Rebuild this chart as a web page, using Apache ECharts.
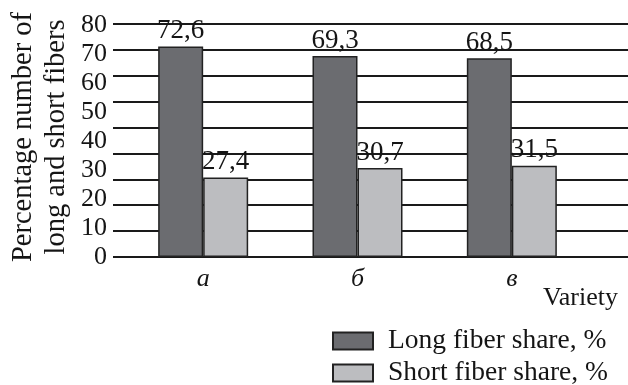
<!DOCTYPE html>
<html>
<head>
<meta charset="utf-8">
<script src="https://cdn.jsdelivr.net/npm/echarts@6/dist/echarts.min.js"></script>
<style>
  html, body { margin: 0; padding: 0; background: #fff; }
  #chart { width: 628px; height: 385px; }
</style>
</head>
<body>
<div id="chart"></div>
<script>
// Fiber share by variety
const categories = ['а', 'б', 'в'];
const longShare = [72.6, 69.3, 68.5];
const shortShare = [27.4, 30.7, 31.5];
const seriesNames = ['Long fiber share, %', 'Short fiber share, %'];
const yTicks = [0, 10, 20, 30, 40, 50, 60, 70, 80];
const yTitle = 'Percentage number of\nlong and short fibers';
const xTitle = 'Variety';

const SERIF = '"Liberation Serif", "DejaVu Serif", serif';
const INK = '#151515';

const fmt = v => String(v.toFixed(1)).replace('.', ',');

// one legend block per series, stacked
const legendBlock = (name, top) => ({
  orient: 'vertical',
  left: 332,
  top: top,
  padding: 0,
  itemWidth: 40,
  itemHeight: 17,
  icon: 'rect',
  textStyle: {
    fontFamily: SERIF,
    fontSize: 27.5,
    lineHeight: 26,
    color: INK,
    padding: [0, 0, 0, 10]
  },
  data: [name]
});

const barLabel = {
  show: true,
  position: 'top',
  distance: 2,
  fontFamily: SERIF,
  fontSize: 27,
  color: INK,
  formatter: p => fmt(p.value)
};

const chart = echarts.init(document.getElementById('chart'), null, { renderer: 'canvas' });

chart.setOption({
  animation: false,
  backgroundColor: '#ffffff',
  textStyle: { fontFamily: SERIF, color: INK },
  grid: [
    // bars
    { left: 126, right: 39, top: 25, bottom: 128 },
    // ruled background lines, running the full width
    { left: 113, right: 0, top: 24, bottom: 128, z: 0 }
  ],
  xAxis: [
    {
      type: 'category',
      gridIndex: 0,
      data: categories,
      axisLine: { show: false },
      axisTick: { show: false },
      axisLabel: {
        margin: 9,
        fontFamily: SERIF,
        fontStyle: 'italic',
        fontSize: 26,
        color: INK
      }
    },
    {
      type: 'value',
      gridIndex: 1,
      min: 0, max: 1,
      show: false
    }
  ],
  yAxis: [
    {
      type: 'value',
      gridIndex: 0,
      min: yTicks[0],
      max: yTicks[yTicks.length - 1],
      interval: 10,
      axisLine: { show: false },
      axisTick: { show: false },
      splitLine: { show: false },
      axisLabel: {
        margin: 19,
        fontFamily: SERIF,
        fontSize: 26,
        color: INK
      }
    },
    {
      type: 'value',
      gridIndex: 1,
      min: 0, max: 9, interval: 1,
      axisLine: { show: false },
      axisTick: { show: false },
      axisLabel: { show: false },
      splitLine: { show: true, lineStyle: { color: '#1a1a1a', width: 2 } }
    }
  ],
  legend: [
    legendBlock(seriesNames[0], 327),
    legendBlock(seriesNames[1], 359)
  ],
  series: [
    {
      name: seriesNames[0],
      type: 'bar',
      xAxisIndex: 0, yAxisIndex: 0,
      data: longShare,
      barWidth: 45,
      barGap: '0%',
      itemStyle: { color: '#6b6c70', borderColor: '#222', borderWidth: 1.5 },
      label: barLabel,
      z: 3
    },
    {
      name: seriesNames[1],
      type: 'bar',
      xAxisIndex: 0, yAxisIndex: 0,
      data: shortShare,
      barWidth: 45,
      barGap: '0%',
      itemStyle: { color: '#bcbdc0', borderColor: '#222', borderWidth: 1.5 },
      label: barLabel,
      z: 3
    }
  ],
  graphic: [
    {
      type: 'text',
      x: 40,
      y: 137,
      rotation: Math.PI / 2,
      style: {
        text: yTitle,
        fontFamily: SERIF,
        fontSize: 28.5,
        lineHeight: 33,
        fill: INK,
        align: 'center',
        verticalAlign: 'middle'
      }
    },
    {
      type: 'text',
      right: 10,
      top: 285,
      style: {
        text: xTitle,
        fontFamily: SERIF,
        fontSize: 26,
        fill: INK
      }
    }
  ]
});
</script>
</body>
</html>
